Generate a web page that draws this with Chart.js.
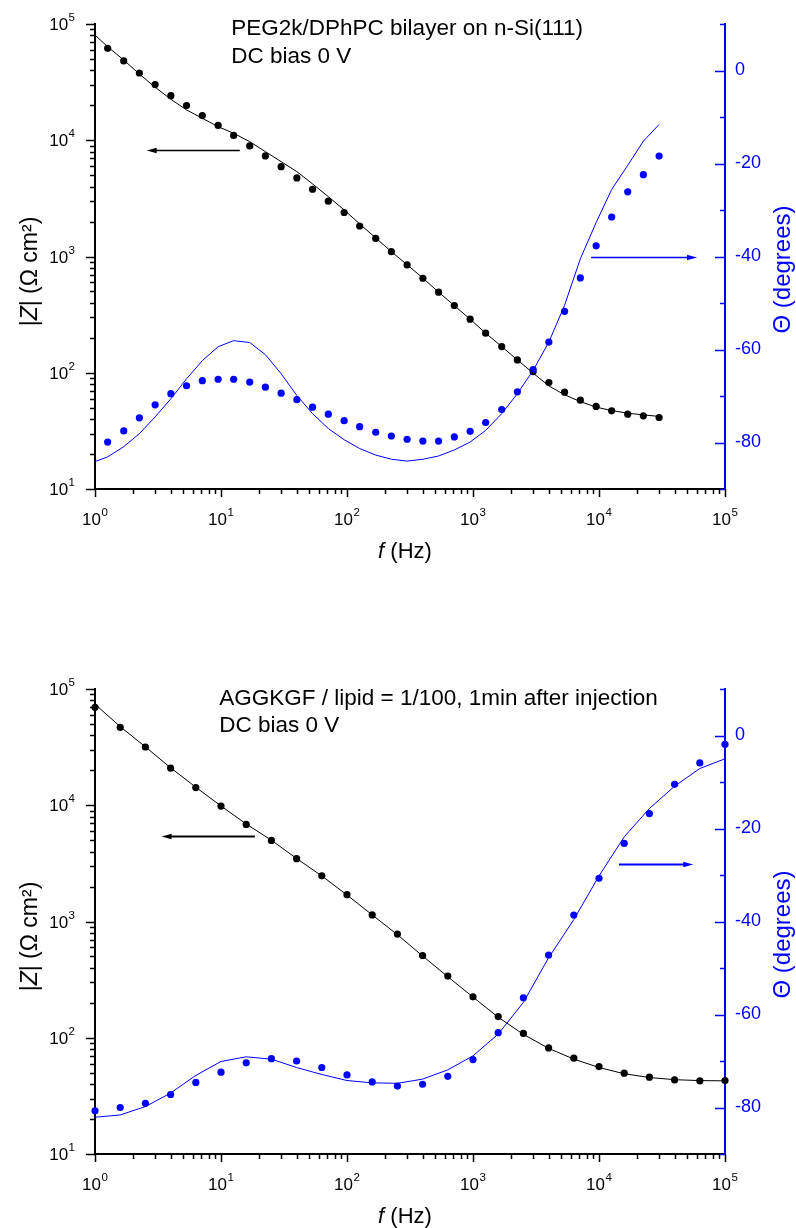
<!DOCTYPE html>
<html>
<head>
<meta charset="utf-8">
<title>Impedance spectra</title>
<script src="https://cdn.jsdelivr.net/npm/chart.js@4.4.1/dist/chart.umd.min.js"></script>
<style>
  body { margin: 0; background: #fff; }
  .panel { position: absolute; left: 0; width: 796px; }
</style>
</head>
<body>
<div class="panel" style="top:0"><canvas id="chartTop" width="796" height="600"></canvas></div>
<div class="panel" style="top:600px"><canvas id="chartBottom" width="796" height="628"></canvas></div>
<script>
const FONT = '"Liberation Sans", Arial, Helvetica, sans-serif';
const BLUE = '#0000ff';

// top panel - PEG2k/DPhPC bilayer, measured points
const freqTop = [1.26, 1.69, 2.25, 3, 4, 5.33, 7.11, 9.49, 12.6, 16.9, 22.5, 30, 40, 53.3, 71.1, 94.9,
  126, 169, 225, 300, 400, 533, 711, 949, 1260, 1690, 2250, 3000, 4000, 5330, 7110, 9490,
  12600, 16900, 22500, 30000];
const zTop = [61800, 48100, 37900, 30100, 24200, 19900, 16300, 13400, 11000, 8940, 7330, 5930, 4740,
  3790, 2990, 2390, 1830, 1430, 1100, 847, 650, 493, 379, 289, 219, 168, 129, 102, 82.4, 68.1,
  58.1, 51.3, 47.0, 44.0, 42.6, 41.2];
const phaseTop = [-79.9, -77.5, -74.7, -71.9, -69.5, -67.8, -66.7, -66.4, -66.4, -67.0, -68.1, -69.4,
  -70.8, -72.4, -73.9, -75.3, -76.6, -77.8, -78.6, -79.3, -79.7, -79.7, -78.8, -77.6, -75.7, -72.9,
  -69.1, -64.3, -58.4, -51.8, -44.6, -37.7, -31.5, -26.1, -22.4, -18.4];
// top panel - fit curves
const fitFreqTop = [1, 1.26, 1.69, 2.25, 3, 4, 5.33, 7.11, 9.49, 12.6, 16.9, 22.5, 30, 40, 53.3, 71.1,
  94.9, 126, 169, 225, 300, 400, 533, 711, 949, 1260, 1690, 2250, 3000, 4000, 5330, 7110, 9490,
  12600, 16900, 22500, 30000];
const zFitTop = [80300, 63800, 49000, 37150, 28600, 22500, 18240, 15450, 13090, 11480, 9730, 7980, 6550,
  5370, 4210, 3270, 2520, 1905, 1445, 1100, 850, 652, 494, 378, 289, 219, 168, 129, 99.3, 77.1,
  64.6, 56.5, 50.6, 47.3, 44.9, 43.4, 42.1];
const phaseFitTop = [-84.1, -83.1, -80.9, -78.1, -74.5, -70.6, -66.3, -62.4, -59.4, -58.1, -58.5, -61.1,
  -65.2, -69.9, -73.8, -77.0, -79.4, -81.3, -82.7, -83.6, -84.0, -83.6, -82.9, -81.6, -79.9, -77.4,
  -73.8, -69.5, -64.5, -58.4, -50.5, -40.5, -32.7, -25.6, -20.4, -15.2, -11.6];

// bottom panel - AGGKGF / lipid = 1/100
const freqBottom = [1, 1.585, 2.512, 3.981, 6.31, 10, 15.85, 25.12, 39.81, 63.1, 100, 158.5, 251.2,
  398.1, 631, 1000, 1585, 2512, 3981, 6310, 10000, 15850, 25120, 39810, 63100, 100000];
const zBottom = [69500, 46800, 31700, 20900, 14200, 9840, 6840, 4980, 3470, 2470, 1700, 1140, 779, 510,
  339, 225, 152, 109, 81.8, 66.7, 56.5, 49.6, 45.8, 43.4, 42.6, 42.9];
const phaseBottom = [-80.7, -80.0, -79.1, -77.2, -74.6, -72.4, -70.4, -69.5, -70.0, -71.4, -73.0, -74.5,
  -75.4, -75.0, -73.3, -69.7, -63.9, -56.4, -47.2, -38.6, -30.7, -23.2, -16.8, -10.5, -5.9, -1.9];
const zFitBottom = [74000, 47500, 31800, 21000, 14300, 9850, 6900, 5000, 3480, 2470, 1690, 1140, 770,
  505, 335, 224, 150, 107, 81.0, 65.5, 55.5, 49.0, 45.5, 43.6, 42.8, 42.6];
const phaseFitBottom = [-82.1, -81.6, -79.8, -76.9, -73.1, -70.1, -69.1, -69.6, -71.4, -72.9, -74.2, -74.7,
  -74.8, -73.9, -71.9, -68.9, -64.2, -57.4, -47.8, -39.6, -30.2, -21.8, -15.7, -10.9, -7.1, -5.0];

// axis ticks
const freqDecades = [1, 10, 100, 1000, 10000, 100000];
const freqExp = ['0', '1', '2', '3', '4', '5'];
const zDecades = [10, 100, 1000, 10000, 100000];
const zExp = ['1', '2', '3', '4', '5'];
const phaseLabels = [-80, -60, -40, -20, 0];

const pts = (xs, ys) => xs.map((x, i) => ({x: x, y: ys[i]}));

function minorTicks(decades) {
  const out = [];
  decades.slice(0, -1).forEach(d => { for (let m = 2; m <= 9; m++) out.push(d * m); });
  return out;
}

function powerLabel(ctx, exp, x, y, align) {
  ctx.font = '17px ' + FONT;
  const wBase = ctx.measureText('10').width;
  ctx.font = '11.5px ' + FONT;
  const wExp = ctx.measureText(exp).width;
  const total = wBase + 0.5 + wExp;
  const x0 = align === 'right' ? x - total : x - total / 2;
  ctx.textAlign = 'left';
  ctx.textBaseline = 'alphabetic';
  ctx.font = '17px ' + FONT;
  ctx.fillText('10', x0, y);
  ctx.font = '11.5px ' + FONT;
  ctx.fillText(exp, x0 + wBase + 0.5, y - 9);
}

// parts: [text, italic]
function richText(ctx, parts, x, y, size, color) {
  const fontOf = p => (p[1] ? 'italic ' : '') + size + 'px ' + FONT;
  let w = 0;
  parts.forEach(p => { ctx.font = fontOf(p); w += ctx.measureText(p[0]).width; });
  let cx = x - w / 2;
  ctx.fillStyle = color;
  ctx.textAlign = 'left';
  ctx.textBaseline = 'alphabetic';
  parts.forEach(p => { ctx.font = fontOf(p); ctx.fillText(p[0], cx, y); cx += ctx.measureText(p[0]).width; });
}

function arrow(ctx, x1, x2, y, color, width) {
  const dir = Math.sign(x2 - x1);
  ctx.strokeStyle = color;
  ctx.fillStyle = color;
  ctx.lineWidth = width;
  ctx.beginPath();
  ctx.moveTo(x1, y);
  ctx.lineTo(x2 - dir * 6, y);
  ctx.stroke();
  ctx.beginPath();
  ctx.moveTo(x2, y);
  ctx.lineTo(x2 - dir * 10, y - 2.8);
  ctx.lineTo(x2 - dir * 10, y + 2.8);
  ctx.closePath();
  ctx.fill();
}

const bodeAxes = {
  id: 'bodeAxes',
  afterDraw(chart, args, opts) {
    const ctx = chart.ctx;
    const {left, right, top, bottom} = chart.chartArea;
    const sx = chart.scales.x, sy = chart.scales.y, sp = chart.scales.y2;
    ctx.save();

    // tick marks: x and left axis outward, right axis inward
    ctx.lineWidth = 1.5;
    ctx.strokeStyle = '#000';
    ctx.beginPath();
    minorTicks(freqDecades).forEach(v => {
      const px = Math.round(sx.getPixelForValue(v)) + 0.5;
      ctx.moveTo(px, bottom); ctx.lineTo(px, bottom + 5);
    });
    freqDecades.forEach(v => {
      const px = Math.round(sx.getPixelForValue(v)) + 0.5;
      ctx.moveTo(px, bottom); ctx.lineTo(px, bottom + 8);
    });
    minorTicks(zDecades).forEach(v => {
      const py = Math.round(sy.getPixelForValue(v)) + 0.5;
      ctx.moveTo(left, py); ctx.lineTo(left - 5, py);
    });
    zDecades.forEach(v => {
      const py = Math.round(sy.getPixelForValue(v)) + 0.5;
      ctx.moveTo(left, py); ctx.lineTo(left - 9, py);
    });
    ctx.stroke();

    ctx.strokeStyle = BLUE;
    ctx.beginPath();
    for (let v = sp.min; v <= sp.max; v += 10) {
      const py = Math.round(sp.getPixelForValue(v)) + 0.5;
      const len = phaseLabels.includes(v) ? 10 : 5;
      ctx.moveTo(right, py); ctx.lineTo(right - len, py);
    }
    ctx.stroke();

    // power-of-ten tick labels
    ctx.fillStyle = '#000';
    freqDecades.forEach((v, i) => powerLabel(ctx, freqExp[i], sx.getPixelForValue(v), bottom + 36, 'center'));
    zDecades.forEach((v, i) => powerLabel(ctx, zExp[i], left - 20, sy.getPixelForValue(v) + 6, 'right'));

    // axis titles
    const midY = (top + bottom) / 2;
    richText(ctx, [['f', true], [' (Hz)', false]], (left + right) / 2 - 5, bottom + 69, 22, '#000');
    ctx.save();
    ctx.translate(37, midY + 15);
    ctx.rotate(-Math.PI / 2);
    richText(ctx, [['|', false], ['Z', true], ['| (\u03A9 cm\u00B2)', false]], 0, 0, 23, '#000');
    ctx.restore();
    ctx.save();
    ctx.translate(790, midY + 13);
    ctx.rotate(-Math.PI / 2);
    richText(ctx, [['\u0398 (degrees)', false]], 0, 0, 24, BLUE);
    ctx.restore();

    // annotation text
    const note = opts.note;
    ctx.fillStyle = '#000';
    ctx.font = note.size + 'px ' + FONT;
    ctx.textAlign = 'left';
    ctx.textBaseline = 'alphabetic';
    const nx = sx.getPixelForValue(note.x);
    const ny = sy.getPixelForValue(note.y);
    note.lines.forEach((t, i) => ctx.fillText(t, nx, ny + i * note.gap));

    // arrows pointing to the axis each curve belongs to
    opts.arrows.forEach(a => {
      const scale = chart.scales[a.axis];
      arrow(ctx, sx.getPixelForValue(a.from), sx.getPixelForValue(a.to),
        Math.round(scale.getPixelForValue(a.y)) + 0.5, a.color, a.width);
    });
    ctx.restore();
  }
};

function makeChart(id, d) {
  const canvas = document.getElementById(id);
  return new Chart(canvas, {
    type: 'scatter',
    data: {
      datasets: [
        {data: pts(d.fitFreq, d.phaseFit), yAxisID: 'y2', showLine: true, borderColor: BLUE,
          borderWidth: 1, pointRadius: 0, tension: 0, clip: false},
        {data: pts(d.fitFreq, d.zFit), yAxisID: 'y', showLine: true, borderColor: '#000',
          borderWidth: 1, pointRadius: 0, tension: 0, clip: false},
        {data: pts(d.freq, d.phase), yAxisID: 'y2', pointRadius: 3.6, pointBorderWidth: 0,
          pointBackgroundColor: BLUE, clip: false},
        {data: pts(d.freq, d.z), yAxisID: 'y', pointRadius: 3.6, pointBorderWidth: 0,
          pointBackgroundColor: '#000', clip: false}
      ]
    },
    options: {
      responsive: false,
      animation: false,
      events: [],
      layout: {padding: {top: d.padTop, left: 0, right: 0, bottom: 0}},
      plugins: {
        legend: {display: false},
        tooltip: {enabled: false},
        bodeAxes: {note: d.note, arrows: d.arrows}
      },
      scales: {
        x: {
          type: 'logarithmic', position: 'bottom', min: 1, max: 100000,
          ticks: {display: false},
          grid: {display: false, drawTicks: false},
          border: {display: true, color: '#000', width: 2},
          afterFit: s => { s.height = canvas.height - d.plotBottom; }
        },
        y: {
          type: 'logarithmic', position: 'left', min: 10, max: 100000,
          ticks: {display: false},
          grid: {display: false, drawTicks: false},
          border: {display: true, color: '#000', width: 2},
          afterFit: s => { s.width = 95; }
        },
        y2: {
          type: 'linear', position: 'right', min: -90, max: 10,
          ticks: {
            stepSize: 10, autoSkip: false, color: BLUE, padding: 10,
            font: {family: FONT, size: 18},
            callback: v => phaseLabels.includes(v) ? String(v) : ''
          },
          grid: {display: false, drawTicks: false},
          border: {display: true, color: BLUE, width: 2},
          afterFit: s => { s.width = 796 - 725; }
        }
      }
    },
    plugins: [bodeAxes]
  });
}

makeChart('chartTop', {
  freq: freqTop, z: zTop, phase: phaseTop,
  fitFreq: fitFreqTop, zFit: zFitTop, phaseFit: phaseFitTop,
  padTop: 24, plotBottom: 489,
  note: {x: 12.07, y: 80300, size: 22.5, gap: 28,
    lines: ['PEG2k/DPhPC bilayer on n-Si(111)', 'DC bias 0 V']},
  arrows: [
    {axis: 'y', from: 14.1, to: 2.57, y: 8260, color: '#000', width: 1.3},
    {axis: 'y2', from: 8670, to: 60000, y: -40, color: BLUE, width: 1.6}
  ]
});

makeChart('chartBottom', {
  freq: freqBottom, z: zBottom, phase: phaseBottom,
  fitFreq: freqBottom, zFit: zFitBottom, phaseFit: phaseFitBottom,
  padTop: 89, plotBottom: 554,
  note: {x: 9.7, y: 73200, size: 22.5, gap: 27,
    lines: ['AGGKGF / lipid = 1/100, 1min after injection', 'DC bias 0 V']},
  arrows: [
    {axis: 'y', from: 18.6, to: 3.38, y: 5400, color: '#000', width: 2.2},
    {axis: 'y2', from: 14400, to: 56000, y: -27.6, color: BLUE, width: 2.2}
  ]
});
</script>
</body>
</html>
